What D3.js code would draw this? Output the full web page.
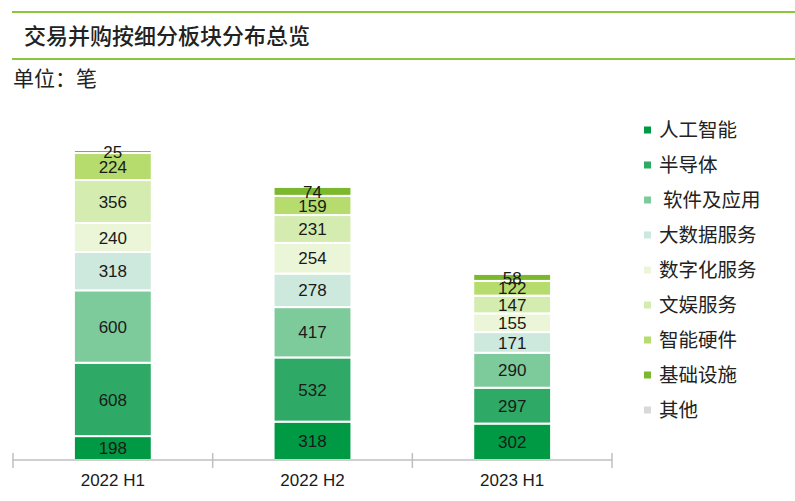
<!DOCTYPE html>
<html><head><meta charset="utf-8">
<script src="https://cdn.jsdelivr.net/npm/d3@7"></script>
<style>body{margin:0;background:#fff;}svg{display:block;}</style>
</head><body>
<svg id="c" width="795" height="501"></svg>
<script>
const categories = ["2022 H1", "2022 H2", "2023 H1"];
const seriesNames = ["人工智能","半导体","软件及应用","大数据服务","数字化服务","文娱服务","智能硬件","基础设施","其他"];
const ai       = [198, 318, 302];
const semi     = [608, 532, 297];
const software = [600, 417, 290];
const bigdata  = [318, 278, 171];
const digital  = [240, 254, 155];
const ent      = [356, 231, 147];
const hardware = [224, 159, 122];
const infra    = [25, 74, 58];
const other    = [0, 0, 0];
const colors = ["#009944","#2eaa66","#7dcb9b","#cde8dc","#ebf5d7","#d5ecb0","#b6dc6e","#7cb82e","#d9d9d9"];

const series = [ai, semi, software, bigdata, digital, ent, hardware, infra, other];
const rows = categories.map((c, i) => {
  const r = {cat: c};
  seriesNames.forEach((n, k) => r[n] = series[k][i]);
  return r;
});
const stacked = d3.stack().keys(seriesNames)(rows);
const maxTotal = d3.max(rows, r => d3.sum(seriesNames, n => r[n]));

const svg = d3.select("#c");
const x = d3.scaleBand().domain(categories).range([13, 612]).padding(0);
const y = d3.scaleLinear().domain([0, maxTotal]).range([460, 150]);
const barW = x.bandwidth() * 0.39;

// header lines & title
svg.append("line").attr("x1", 12).attr("x2", 795).attr("y1", 12).attr("y2", 12).attr("stroke", "#8cc43c").attr("stroke-width", 2);
svg.append("line").attr("x1", 12).attr("x2", 795).attr("y1", 59).attr("y2", 59).attr("stroke", "#8cc43c").attr("stroke-width", 2);
svg.append("text").attr("x", 24).attr("y", 44).text("交易并购按细分板块分布总览")
  .attr("font-family", "Noto Sans CJK SC").attr("font-size", 22).attr("font-weight", 500).attr("fill", "#222");
svg.append("text").attr("x", 13).attr("y", 86).text("单位：笔")
  .attr("font-family", "Noto Sans CJK SC").attr("font-size", 21).attr("fill", "#222");

// bars
const g = svg.append("g");
stacked.forEach((s, k) => {
  g.selectAll(null).data(s.filter(d => d[1] - d[0] > 0)).enter().append("rect")
    .attr("x", d => x(d.data.cat) + (x.bandwidth() - barW) / 2)
    .attr("width", barW)
    .attr("y", d => y(d[1]))
    .attr("height", d => y(d[0]) - y(d[1]))
    .attr("fill", colors[k])
    .attr("stroke", "#fff").attr("stroke-width", 2);
});
stacked.forEach((s, k) => {
  g.selectAll(null).data(s.filter(d => d[1] - d[0] > 0)).enter().append("text")
    .attr("x", d => x(d.data.cat) + x.bandwidth() / 2)
    .attr("y", d => (y(d[0]) + y(d[1])) / 2)
    .attr("dy", "0.36em")
    .attr("text-anchor", "middle")
    .attr("font-family", "Liberation Sans Narrow, Liberation Sans, sans-serif")
    .attr("font-size", 17)
    .attr("fill", "#1a1a1a")
    .text(d => d[1] - d[0]);
});

// axis
const ax = svg.append("g");
ax.append("line").attr("x1", 13).attr("x2", 612).attr("y1", 460).attr("y2", 460).attr("stroke", "#bfbfbf").attr("stroke-width", 1.5);
const bounds = categories.map(c => x(c)).concat([x.range()[1]]);
ax.selectAll(null).data(bounds).enter().append("line")
  .attr("x1", d => d).attr("x2", d => d).attr("y1", 453).attr("y2", 468)
  .attr("stroke", "#bfbfbf").attr("stroke-width", 1.5);
ax.selectAll(null).data(categories).enter().append("text")
  .attr("x", d => x(d) + x.bandwidth() / 2).attr("y", 486)
  .attr("text-anchor", "middle")
  .attr("font-family", "Liberation Sans Narrow, Liberation Sans, sans-serif")
  .attr("font-size", 17).attr("fill", "#1a1a1a")
  .text(d => d);

// legend
const lg = svg.append("g");
seriesNames.forEach((n, k) => {
  const yy = 130 + k * 35;
  lg.append("rect").attr("x", 644).attr("y", yy - 3.5).attr("width", 7).attr("height", 7).attr("fill", colors[k]);
  lg.append("text").attr("x", k === 2 ? 663 : 659).attr("y", yy).attr("dy", "0.36em")
    .attr("font-family", "Noto Sans CJK SC").attr("font-size", 19.5).attr("fill", "#222").text(n);
});
</script>
</body></html>
